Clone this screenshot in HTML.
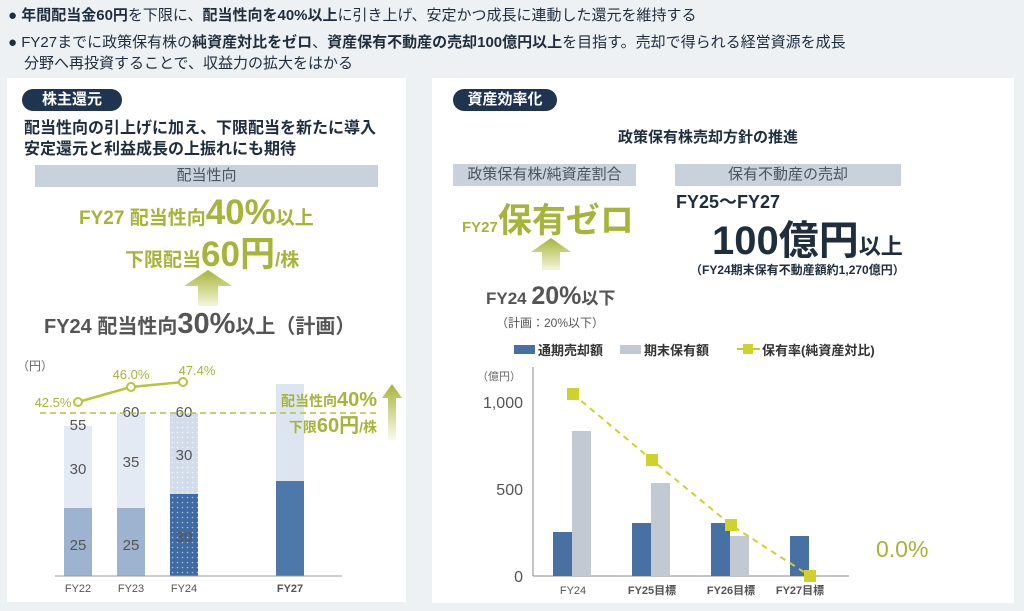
<!DOCTYPE html>
<html><head><meta charset="utf-8"><style>
body{margin:0;width:1024px;height:611px;background:#eef1f4;position:relative;overflow:hidden;font-family:"Liberation Sans","Noto Sans CJK JP",sans-serif;}
.a{position:absolute;white-space:nowrap;}
.panel{position:absolute;background:#fff;}
.pill{position:absolute;background:#1f3450;color:#fff;border-radius:12px;font-weight:bold;font-size:15px;text-align:center;line-height:22px;height:22px;}
.bar{position:absolute;background:#c9d1da;color:#4a5562;font-size:15px;text-align:center;line-height:22px;height:22px;}
.g{color:#a6b43a;}
</style></head><body>
<div class="a" style="left:8px;top:4px;font-size:15px;color:#1f2d3d;">● <b>年間配当金60円</b>を下限に、<b>配当性向を40%以上</b>に引き上げ、安定かつ成長に連動した還元を維持する</div>
<div class="a" style="left:8px;top:31px;font-size:15px;color:#1f2d3d;">● FY27までに政策保有株の<b>純資産対比をゼロ</b>、<b>資産保有不動産の売却100億円以上</b>を目指す。売却で得られる経営資源を成長</div>
<div class="a" style="left:24px;top:52px;font-size:15px;color:#1f2d3d;">分野へ再投資することで、収益力の拡大をはかる</div>

<div class="panel" style="left:7px;top:78px;width:399px;height:524px;"></div>
<div class="panel" style="left:432px;top:78px;width:582px;height:525px;"></div>

<div class="pill" style="left:22px;top:89px;width:100px;">株主還元</div>
<div class="a" style="left:24px;top:118px;font-size:16px;font-weight:bold;color:#1f2d3d;line-height:21px;">配当性向の引上げに加え、下限配当を新たに導入<br>安定還元と利益成長の上振れにも期待</div>
<div class="bar" style="left:35px;top:165px;width:343px;">配当性向</div>
<div class="a g" style="left:79px;top:193px;font-size:19px;font-weight:bold;">FY27 配当性向<span style="font-size:35px;">40%</span>以上</div>
<div class="a g" style="left:125px;top:226px;font-size:19px;font-weight:bold;">下限配当<span style="font-size:35px;">60円</span>/株</div>
<svg class="a" style="left:180px;top:268px" width="56" height="38"><defs><linearGradient id="ga" x1="0" y1="0" x2="0" y2="1"><stop offset="0" stop-color="#a8b43a"/><stop offset="1" stop-color="#f4f6dc"/></linearGradient></defs><path d="M28 2 L52 18 L38 18 L38 38 L18 38 L18 18 L4 18 Z" fill="url(#ga)"/></svg>
<div class="a" style="left:44px;top:308px;font-size:20px;color:#555;font-weight:bold;">FY24 配当性向<span style="font-size:29px;">30%</span>以上（計画）</div>

<svg class="a" style="left:0;top:340px" width="420" height="271" font-family="Liberation Sans, Noto Sans CJK JP, sans-serif">
<defs>
<pattern id="d1" width="5" height="5" patternUnits="userSpaceOnUse"><rect width="5" height="5" fill="#3f6aa2"/><circle cx="2.5" cy="2.5" r="0.8" fill="#a9bfdc"/></pattern>
<pattern id="d2" width="5" height="5" patternUnits="userSpaceOnUse"><rect width="5" height="5" fill="#d3dcea"/><circle cx="2.5" cy="2.5" r="0.8" fill="#f2f5fa"/></pattern>
</defs>
<text x="17" y="30" font-size="12" fill="#666">（円）</text>
<rect x="64" y="168" width="28" height="68" fill="#9db3cf"/><rect x="64" y="86" width="28" height="82" fill="#e4eaf3"/>
<rect x="117" y="168" width="28" height="68" fill="#9db3cf"/><rect x="117" y="73" width="28" height="95" fill="#e4eaf3"/>
<rect x="170" y="154" width="28" height="82" fill="url(#d1)"/><rect x="170" y="73" width="28" height="81" fill="url(#d2)"/>
<rect x="276" y="141" width="28" height="95" fill="#4d78a9"/><rect x="276" y="44" width="28" height="97" fill="#dde5f0"/>
<line x1="55" y1="236" x2="342" y2="236" stroke="#999"/>
<g font-size="15" fill="#555" text-anchor="middle">
<text x="78" y="90">55</text><text x="78" y="134">30</text><text x="78" y="210">25</text>
<text x="131" y="77">60</text><text x="131" y="127">35</text><text x="131" y="210">25</text>
<text x="184" y="77">60</text><text x="184" y="120">30</text><text x="184" y="202">30</text>
</g>
<line x1="40" y1="73" x2="380" y2="73" stroke="#b5c04a" stroke-dasharray="6,4" stroke-width="1.5"/>
<polyline points="78,62 131,47 183,42" fill="none" stroke="#b9c53a" stroke-width="2.5"/>
<g fill="#fff" stroke="#b9c53a" stroke-width="2"><circle cx="78" cy="62" r="4"/><circle cx="131" cy="47" r="4"/><circle cx="183" cy="42" r="4"/></g>
<g font-size="13" fill="#a6b43a" text-anchor="middle"><text x="53" y="67">42.5%</text><text x="131" y="39">46.0%</text><text x="197" y="35">47.4%</text></g>
<text x="377" y="66" font-size="14" fill="#a6b43a" text-anchor="end" font-weight="bold">配当性向<tspan font-size="20">40%</tspan></text>
<text x="377" y="92" font-size="14" fill="#a6b43a" text-anchor="end" font-weight="bold">下限<tspan font-size="20">60円</tspan>/株</text>
<defs><linearGradient id="gb" x1="0" y1="0" x2="0" y2="1"><stop offset="0" stop-color="#a8b43a"/><stop offset="1" stop-color="#fafbee"/></linearGradient></defs>
<path d="M392 44 L402 58 L396 58 L396 100 L388 100 L388 58 L382 58 Z" fill="url(#gb)"/>
<g font-size="11" fill="#555" text-anchor="middle"><text x="78" y="252">FY22</text><text x="131" y="252">FY23</text><text x="184" y="252">FY24</text><text x="290" y="252" font-weight="bold">FY27</text></g>
</svg>

<div class="pill" style="left:453px;top:89px;width:104px;">資産効率化</div>
<div class="a" style="left:618px;top:126px;font-size:15px;font-weight:bold;color:#1f2d3d;">政策保有株売却方針の推進</div>
<div class="bar" style="left:453px;top:164px;width:183px;">政策保有株/純資産割合</div>
<div class="bar" style="left:675px;top:164px;width:226px;">保有不動産の売却</div>
<div class="a g" style="left:462px;top:193px;font-size:15px;font-weight:bold;">FY27<span style="font-size:34px;">保有ゼロ</span></div>
<svg class="a" style="left:528px;top:236px" width="46" height="34"><path d="M23 2 L43 16 L32 16 L32 34 L14 34 L14 16 L3 16 Z" fill="url(#ga)"/></svg>
<div class="a" style="left:486px;top:282px;font-size:17px;color:#555;font-weight:bold;">FY24 <span style="font-size:25px;">20%</span>以下</div>
<div class="a" style="left:496px;top:314px;font-size:12px;color:#555;">（計画：20%以下）</div>
<div class="a" style="left:676px;top:188px;font-size:18px;color:#1f2d3d;font-weight:bold;">FY25〜FY27</div>
<div class="a" style="left:712px;top:208px;font-size:40px;color:#1f2d3d;font-weight:bold;">100億円<span style="font-size:22px;">以上</span></div>
<div class="a" style="left:690px;top:261px;font-size:12px;color:#1f2d3d;font-weight:bold;">（FY24期末保有不動産額約1,270億円）</div>

<svg class="a" style="left:430px;top:330px" width="594" height="281" font-family="Liberation Sans, Noto Sans CJK JP, sans-serif">
<rect x="84" y="15" width="21" height="9" fill="#4870a3"/><text x="108" y="25" font-size="13" fill="#333" font-weight="bold">通期売却額</text>
<rect x="190" y="15" width="21" height="9" fill="#c2c9d3"/><text x="214" y="25" font-size="13" fill="#333" font-weight="bold">期末保有額</text>
<line x1="307" y1="19" x2="330" y2="19" stroke="#c8cc2a" stroke-width="2"/><rect x="313" y="14" width="10" height="10" fill="#cfd22c"/><text x="332" y="25" font-size="13" fill="#333" font-weight="bold">保有率(純資産対比)</text>
<text x="47" y="50" font-size="11" fill="#666">（億円）</text>
<line x1="103" y1="37" x2="103" y2="246" stroke="#888"/>
<line x1="103" y1="246" x2="419" y2="246" stroke="#888"/>
<g font-size="16" fill="#555" text-anchor="end"><text x="93" y="78">1,000</text><text x="93" y="165">500</text><text x="93" y="252">0</text></g>
<rect x="123" y="202" width="19" height="44" fill="#4870a3"/><rect x="142" y="101" width="19" height="145" fill="#c2c9d3"/>
<rect x="202" y="193" width="19" height="53" fill="#4870a3"/><rect x="221" y="153" width="19" height="93" fill="#c2c9d3"/>
<rect x="281" y="193" width="19" height="53" fill="#4870a3"/><rect x="300" y="206" width="19" height="40" fill="#c2c9d3"/>
<rect x="360" y="206" width="19" height="40" fill="#4870a3"/>
<polyline points="143,64 222,130 301,195 380,246" fill="none" stroke="#cfd22c" stroke-width="2" stroke-dasharray="6,5"/>
<g fill="#cfd22c"><rect x="137" y="58" width="12" height="12"/><rect x="216" y="124" width="12" height="12"/><rect x="295" y="189" width="12" height="12"/><rect x="374" y="240" width="12" height="12"/></g>
<text x="446" y="227" font-size="23" fill="#a6b43a">0.0%</text>
<g font-size="11" fill="#555" text-anchor="middle" font-weight="bold"><text x="143" y="264" font-weight="normal">FY24</text><text x="222" y="264">FY25目標</text><text x="301" y="264">FY26目標</text><text x="370" y="264">FY27目標</text></g>
</svg>
</body></html>
